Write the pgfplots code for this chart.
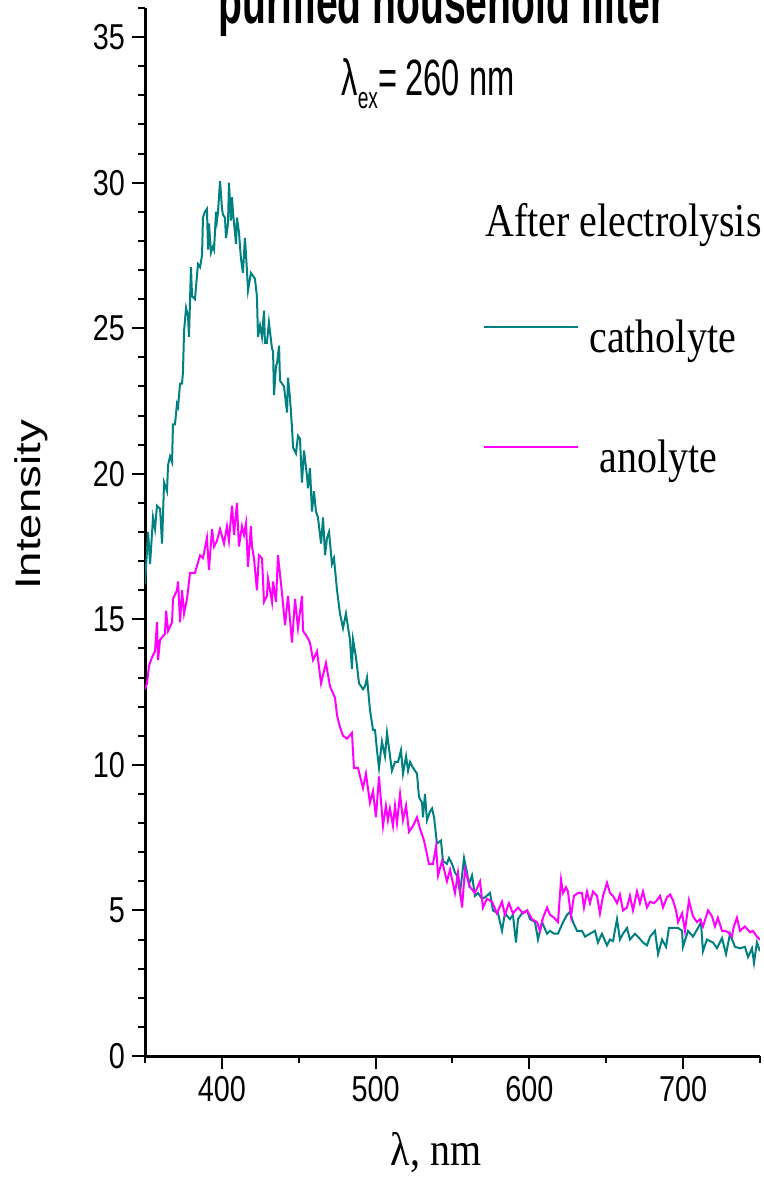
\documentclass[border=0pt]{standalone}
\usepackage{pgfplots}
\pgfplotsset{compat=1.18}
\usepackage{fontspec}
\setmainfont{Liberation Serif}
\newfontfamily\tickfont[FakeStretch=0.8]{Liberation Sans}
\newfontfamily\titlefont[FakeStretch=0.62]{Liberation Sans}
\newfontfamily\exfont[FakeStretch=0.64]{Liberation Sans}
\newfontfamily\legfont[FakeStretch=0.85]{Liberation Serif}
\newfontfamily\ylabfont[FakeStretch=1.28]{Liberation Sans}
\definecolor{cath}{RGB}{0,128,128}
\definecolor{anol}{RGB}{255,0,255}
\begin{document}
\begin{tikzpicture}
\begin{axis}[
  at={(0,0)}, anchor=south west,
  scale only axis, width=307.5pt, height=524pt,
  xmin=350, xmax=750, ymin=0, ymax=36,
  axis x line=bottom, axis y line=left,
  axis line style={-, line width=1.5pt},
  xtick={400,500,600,700}, minor xtick={350,450,550,650,750},
  ytick={0,5,...,35}, minor ytick={1,2,...,36},
  tick align=outside,
  major tick length=6.5pt, minor tick length=3.5pt,
  every tick/.style={black, line width=1pt},
  ticklabel style={font=\tickfont\fontsize{18}{18}\selectfont},
  /pgf/number format/assume math mode=true,
  legend style={draw=none, fill=none, at={(0.5496,0.7023)}, anchor=north west,
    inner sep=0pt, row sep=39pt, column sep=5pt,
    font=\legfont\fontsize{23.5}{23.5}\selectfont,
    nodes={text height=16pt, text depth=5pt, inner sep=0pt}},
  legend cell align=left,
  legend image code/.code={\draw[#1] (-1pt,7pt) -- (46pt,7pt);},
]
\addplot[cath, line width=1pt] coordinates {
(350.0,16.2)(352.0,18.0)(353.3,16.9)(355.2,18.5)(356.5,18.1)(357.8,18.9)(359.8,18.8)(361.1,17.6)(362.4,19.7)(364.3,19.4)(365.0,20.3)(366.3,20.6)(367.6,20.4)(368.2,21.7)(369.5,21.7)(370.8,22.4)(371.5,22.3)(372.8,23.1)(374.1,23.1)(374.7,23.5)(375.4,24.9)(376.7,25.7)(378.0,25.4)(378.6,24.7)(379.9,27.1)(380.6,26.1)(382.5,26.0)(383.8,26.8)(384.5,27.2)(385.8,27.1)(387.1,27.5)(387.7,28.8)(389.0,29.0)(390.3,29.1)(391.0,27.7)(391.6,28.6)(392.9,27.6)(394.2,27.8)(394.9,27.7)(396.2,29.0)(396.8,28.7)(397.5,29.0)(398.8,30.05)(400.1,29.1)(400.7,28.9)(402.0,28.8)(402.7,28.1)(404.0,28.6)(404.6,30.0)(405.9,28.7)(406.6,29.5)(407.2,29.0)(409.2,27.9)(409.8,28.8)(411.1,28.3)(412.4,27.4)(413.7,26.9)(415.0,28.1)(416.3,27.0)(417.0,26.3)(418.9,26.9)(420.2,26.8)(421.5,26.7)(422.8,26.1)(423.5,24.7)(424.8,25.1)(426.1,24.7)(427.4,25.6)(428.0,24.5)(429.3,24.5)(430.6,25.2)(432.6,24.3)(433.3,24.2)(433.9,22.7)(435.2,23.7)(435.9,23.8)(437.2,24.4)(437.8,23.2)(439.1,23.1)(440.4,23.0)(442.4,22.1)(443.0,23.3)(444.3,22.6)(445.6,21.6)(446.3,20.9)(448.2,20.7)(449.5,21.3)(450.8,21.2)(452.1,19.7)(453.4,20.8)(455.4,19.9)(456.0,19.5)(457.3,20.2)(458.6,18.7)(459.9,19.4)(461.2,18.7)(462.5,18.5)(464.5,17.6)(465.8,18.5)(467.1,17.2)(468.4,17.8)(469.7,18.0)(471.6,16.9)(472.9,17.1)(474.9,16.0)(476.8,15.2)(478.8,14.7)(480.7,15.2)(483.3,14.3)(484.6,13.3)(485.3,14.3)(487.2,13.7)(489.2,12.8)(491.8,12.6)(493.1,12.7)(494.4,13.0)(496.3,11.9)(498.3,11.2)(499.6,11.2)(500.9,10.5)(502.2,9.9)(504.1,10.8)(506.1,10.3)(507.4,11.1)(510.6,9.8)(512.6,10.1)(514.6,10.1)(516.5,10.5)(517.8,9.7)(519.8,10.3)(521.1,9.8)(522.4,10.1)(524.3,9.9)(526.9,9.7)(528.2,8.9)(530.2,8.7)(530.8,8.2)(532.1,9.0)(533.4,8.1)(535.4,8.4)(536.7,8.5)(538.0,8.2)(539.9,7.3)(542.5,7.4)(543.8,6.7)(546.4,6.6)(547.7,6.8)(549.7,6.6)(551.6,6.3)(552.9,6.2)(554.9,5.6)(557.5,6.8)(559.4,6.3)(560.7,5.9)(562.7,6.2)(564.6,5.5)(566.6,5.6)(569.2,5.4)(571.1,5.45)(574.4,5.6)(576.3,5.0)(579.6,4.9)(582.2,4.3)(584.1,4.9)(587.4,4.7)(589.3,4.85)(591.3,3.9)(592.6,4.7)(595.2,4.9)(598.5,5.0)(600.4,4.7)(603.7,4.6)(605.6,4.0)(608.2,4.6)(611.5,4.2)(613.4,4.3)(616.0,4.2)(618.6,4.2)(621.9,4.6)(624.5,4.85)(626.4,4.95)(628.4,4.6)(631.0,4.3)(634.2,4.3)(636.2,4.1)(639.4,4.2)(642.7,4.3)(644.6,3.9)(647.2,4.2)(650.5,3.8)(652.4,4.0)(654.4,3.95)(657.0,4.7)(658.9,4.0)(660.9,4.2)(663.5,4.4)(665.4,4.0)(668.7,4.2)(670.6,4.1)(673.9,3.9)(676.5,3.8)(678.5,4.1)(681.7,4.3)(683.7,3.5)(686.3,4.0)(688.9,3.75)(690.8,4.4)(693.4,4.4)(696.7,4.4)(699.3,4.3)(699.9,3.75)(703.2,4.3)(706.4,4.1)(709.7,4.4)(711.6,4.6)(712.9,3.6)(715.5,4.0)(719.4,3.9)(722.0,3.7)(725.3,4.05)(727.9,3.5)(730.5,4.2)(733.7,3.75)(737.0,3.7)(740.2,3.75)(742.2,3.4)(744.8,3.7)(746.1,3.2)(748.0,3.9)(750.0,3.6)
};
\addlegendentry{catholyte}
\addplot[anol, line width=1pt] coordinates {
(350.0,12.6)(351.3,12.8)(352.6,13.4)(354.6,13.7)(356.5,13.9)(357.8,14.9)(358.5,13.6)(359.8,14.3)(363.0,14.5)(363.7,15.3)(365.0,14.6)(367.6,14.9)(368.2,15.7)(370.8,16.0)(371.5,16.3)(372.8,14.9)(374.1,16.0)(375.4,15.2)(377.3,15.7)(378.0,16.0)(379.3,16.6)(382.5,16.6)(385.8,17.2)(387.7,17.1)(390.3,17.8)(391.6,16.7)(393.6,18.1)(394.9,17.5)(396.8,17.7)(398.8,18.1)(401.4,17.6)(403.3,18.2)(404.6,17.7)(406.6,18.9)(407.9,17.9)(409.8,19.0)(411.1,17.5)(413.1,18.2)(414.4,17.9)(415.7,18.3)(417.0,16.8)(418.9,18.2)(419.6,17.5)(420.9,17.1)(422.8,16.0)(424.1,17.2)(426.1,17.1)(427.4,15.6)(429.3,15.8)(430.0,16.4)(432.6,15.6)(433.3,16.3)(435.2,15.6)(436.5,17.2)(439.1,15.9)(441.1,14.8)(443.0,15.8)(445.6,14.2)(447.6,15.7)(449.5,14.7)(452.1,15.8)(452.8,14.6)(455.4,14.4)(457.3,14.2)(459.3,13.6)(461.9,13.9)(464.5,12.8)(467.7,13.5)(470.3,12.7)(473.6,12.3)(474.9,11.7)(476.8,11.3)(478.8,11.0)(481.4,10.9)(484.6,11.1)(485.9,9.9)(488.5,9.9)(491.8,9.2)(493.7,9.7)(496.3,8.7)(498.3,9.1)(500.2,8.2)(502.2,9.6)(504.8,7.9)(506.7,8.6)(508.0,8.1)(509.3,8.5)(511.3,7.9)(512.6,8.6)(513.9,8.0)(515.9,9.0)(517.8,8.1)(519.8,8.6)(521.7,7.7)(524.3,7.9)(526.9,8.2)(528.9,7.8)(531.5,7.4)(534.7,6.6)(537.3,6.6)(539.3,7.2)(540.6,6.2)(543.2,6.7)(546.4,6.0)(548.4,6.4)(551.6,5.6)(553.6,6.3)(556.2,5.1)(558.1,6.4)(561.4,5.8)(564.6,5.6)(567.9,6.0)(569.8,5.1)(572.4,5.4)(575.7,5.3)(578.9,4.9)(582.2,5.3)(584.1,4.85)(586.7,5.25)(589.3,4.9)(592.6,5.1)(595.9,4.9)(598.5,5.0)(601.7,4.7)(605.0,4.6)(606.9,4.3)(608.9,4.75)(611.5,5.1)(613.4,4.85)(616.0,4.75)(618.6,4.6)(620.6,6.05)(621.9,5.6)(623.8,5.8)(625.1,5.65)(627.1,4.8)(629.0,5.5)(631.6,5.6)(634.2,5.6)(635.5,5.1)(637.5,5.65)(639.4,5.25)(641.4,5.65)(644.0,5.5)(645.9,4.9)(647.9,5.5)(650.5,5.95)(652.4,5.6)(654.4,5.5)(657.0,5.25)(658.9,5.55)(660.9,5.0)(663.5,5.1)(665.4,5.5)(667.4,5.0)(670.0,5.65)(671.9,5.25)(673.9,5.65)(676.5,5.1)(678.5,5.3)(681.1,5.25)(683.0,5.35)(685.0,5.5)(686.9,5.1)(689.5,5.45)(691.5,5.55)(693.4,5.35)(695.4,5.0)(696.7,4.6)(699.3,4.9)(701.2,4.3)(703.8,5.35)(706.4,4.8)(709.0,4.6)(711.0,4.7)(712.9,4.45)(716.2,5.0)(718.8,4.8)(720.7,4.45)(722.6,4.75)(725.3,4.3)(727.2,4.3)(729.2,4.25)(731.7,4.1)(733.0,4.45)(735.0,4.75)(737.0,4.3)(740.2,4.45)(743.5,4.25)(745.4,4.3)(748.0,4.1)(750.0,4.0)
};
\addlegendentry{\hspace{5pt}anolyte}
\end{axis}
\node[anchor=base, font=\titlefont\bfseries\fontsize{31.5}{31.5}\selectfont, inner sep=0pt] at (148.5pt,516pt) {purified household filter};
\node[anchor=base, font=\exfont\fontsize{25.5}{25.5}\selectfont, inner sep=0pt] at (141.5pt,480pt) {λ\raisebox{-0.45ex}{\fontsize{15}{15}\selectfont ex}=\,260 nm};
\node[anchor=base west, font=\legfont\fontsize{23.5}{23.5}\selectfont, inner sep=0pt] at (170pt,409.5pt) {After electrolysis};
\node[anchor=base, font=\legfont\fontsize{23.5}{23.5}\selectfont, inner sep=0pt] at (145.5pt,-54.5pt) {λ, nm};
\node[rotate=90, anchor=center, font=\ylabfont\fontsize{17.8}{17.8}\selectfont, inner sep=0pt] at (-57pt,275.5pt) {Intensity};
\pgfresetboundingbox
\useasboundingbox (-72.5pt,-60.5pt) rectangle (309.5pt,528pt);
\end{tikzpicture}
\end{document}
